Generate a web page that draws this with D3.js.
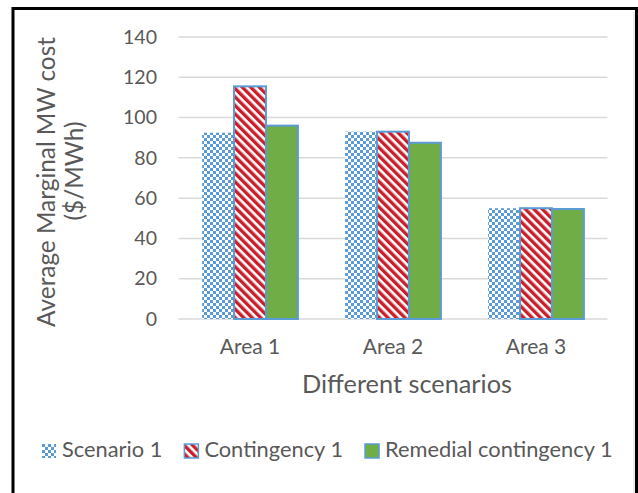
<!DOCTYPE html>
<html>
<head>
<meta charset="utf-8">
<script src="https://cdn.jsdelivr.net/npm/d3@7"></script>
<style>
  body { margin: 0; background: #fff; }
  svg text { font-family: Lato, "Open Sans", sans-serif; fill: #595959; }
</style>
</head>
<body>
<svg id="chart" width="638" height="493"></svg>
<script>
// Average marginal MW cost per area under three scenarios
const categories = ["Area 1", "Area 2", "Area 3"];
const seriesNames = ["Scenario 1", "Contingency 1", "Remedial contingency 1"];
const scenario1 = [92.5, 93, 55];
const contingency1 = [115.5, 93, 55];
const remedialContingency1 = [96, 87.5, 54.6];
const yTicks = [0, 20, 40, 60, 80, 100, 120, 140];

const seriesValues = [scenario1, contingency1, remedialContingency1];

const svg = d3.select("#chart");
const defs = svg.append("defs");

// size a text so that its rendered width equals the given width
function fitWidth(sel, width) {
  sel.attr("font-size", 20);
  const w = d3.max(sel.nodes(), n => n.getComputedTextLength());
  const size = 20 * width / w;
  sel.attr("font-size", size);
  return size;
}

// checkerboard fill for Scenario 1
const checker = defs.append("pattern")
  .attr("id", "checker").attr("patternUnits", "userSpaceOnUse")
  .attr("width", 6).attr("height", 6);
checker.append("rect").attr("width", 6).attr("height", 6).attr("fill", "#fff");
checker.append("rect").attr("width", 3).attr("height", 3).attr("fill", "#5B9BD5");
checker.append("rect").attr("x", 3).attr("y", 3).attr("width", 3).attr("height", 3).attr("fill", "#5B9BD5");

// downward diagonal stripes for Contingency 1
const stripes = defs.append("pattern")
  .attr("id", "stripes").attr("patternUnits", "userSpaceOnUse")
  .attr("width", 6).attr("height", 6)
  .attr("patternTransform", "rotate(-45)");
stripes.append("rect").attr("width", 6).attr("height", 6).attr("fill", "#fff");
stripes.append("rect").attr("width", 3.4).attr("height", 6).attr("fill", "#C8202A");

const fills = ["url(#checker)", "url(#stripes)", "#70AD47"];
const strokes = ["none", "#5B9BD5", "#5B9BD5"];

const x = d3.scaleBand().domain(categories).range([178.5, 607.5]);
const groupWidth = x.bandwidth() * 0.67;
const xs = d3.scaleBand().domain(seriesNames).range([0, groupWidth]);
const y = d3.scaleLinear().domain([0, 140]).range([319, 37]);

// gridlines
svg.append("g").selectAll("line").data(yTicks).join("line")
  .attr("x1", x.range()[0]).attr("x2", x.range()[1])
  .attr("y1", d => y(d)).attr("y2", d => y(d))
  .attr("stroke", "#D9D9D9").attr("stroke-width", 1.5);

// y axis labels
const yAxis = svg.append("g").attr("transform", "translate(157,0)")
  .call(d3.axisLeft(y).tickValues(yTicks).tickSize(0).tickPadding(0));
yAxis.select(".domain").remove();
const yLabels = yAxis.selectAll("text").attr("fill", "#595959")
  .style("font-family", "Lato, sans-serif");
fitWidth(yLabels, 34);

// bars
seriesNames.forEach((name, si) => {
  svg.append("g").selectAll("rect").data(categories).join("rect")
    .attr("x", c => x(c) + (x.bandwidth() - groupWidth) / 2 + xs(name))
    .attr("width", xs.bandwidth())
    .attr("y", (c, i) => y(seriesValues[si][i]))
    .attr("height", (c, i) => y(0) - y(seriesValues[si][i]))
    .attr("fill", fills[si])
    .attr("stroke", strokes[si])
    .attr("stroke-width", 2);
});

// category labels
const xAxis = svg.append("g").attr("transform", "translate(0,339)")
  .call(d3.axisBottom(x).tickSize(0).tickPadding(0));
xAxis.select(".domain").remove();
xAxis.selectAll("text").attr("font-size", 21).attr("fill", "#595959")
  .style("font-family", "Lato, sans-serif");

// axis titles
const xTitle = svg.append("text").attr("x", 407).attr("y", 393)
  .attr("text-anchor", "middle")
  .text("Different scenarios");
fitWidth(xTitle, 210);

const yTitle1 = svg.append("text").attr("transform", "translate(55,182) rotate(-90)")
  .attr("text-anchor", "middle")
  .text("Average Marginal MW cost");
const titleSize = fitWidth(yTitle1, 290);
svg.append("text").attr("transform", "translate(83,171) rotate(-90)")
  .attr("text-anchor", "middle").attr("font-size", titleSize)
  .text("($/MWh)");

// legend, laid out left to right and centred under the chart
const legend = svg.append("g");
const items = legend.selectAll("g").data(seriesNames).join("g");
items.append("rect").attr("y", 444).attr("width", 14).attr("height", 14)
  .attr("fill", (d, i) => fills[i])
  .attr("stroke", (d, i) => i === 0 ? "none" : "#5B9BD5")
  .attr("stroke-width", 1.5);
const legendText = items.append("text").attr("y", 457).text(d => d);
// scale the legend font so the three names span 467px in total
legendText.attr("font-size", 20);
const rawTotal = d3.sum(legendText.nodes(), n => n.getComputedTextLength());
legendText.attr("font-size", 20 * 467 / rawTotal);
let cursor = 0;
items.each(function () {
  const g = d3.select(this);
  const tw = g.select("text").node().getComputedTextLength();
  g.select("rect").attr("x", cursor);
  g.select("text").attr("x", cursor + 20);
  cursor += 20 + tw + 22;
});
const legendWidth = cursor - 22;
legend.attr("transform", `translate(${Math.round(327 - legendWidth / 2)},0)`);

// chart frame
svg.append("line").attr("x1", 634).attr("x2", 634).attr("y1", 12).attr("y2", 493)
  .attr("stroke", "#D9D9D9").attr("stroke-width", 1);
svg.append("rect").attr("x", 13).attr("y", 8.5).attr("width", 623.5).attr("height", 486)
  .attr("fill", "none").attr("stroke", "#000").attr("stroke-width", 3);
</script>
</body>
</html>
